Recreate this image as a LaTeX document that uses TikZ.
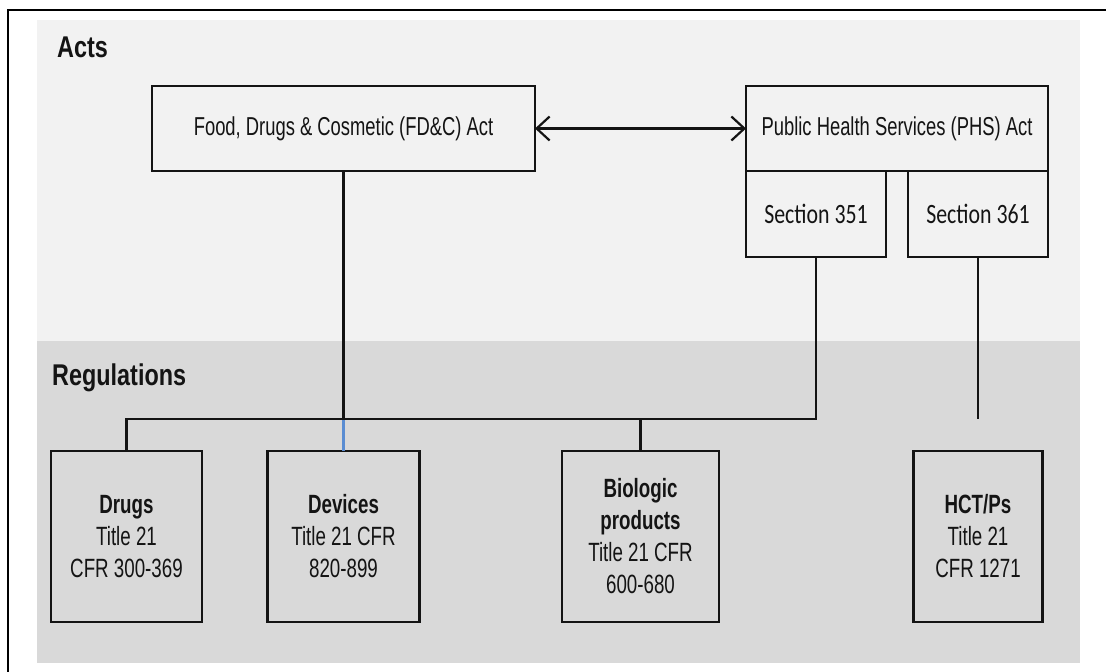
\documentclass[tikz,border=0pt]{standalone}
\usepackage{fontspec}
\setmainfont{Liberation Sans}[FakeStretch=0.71]
\newfontfamily\headfont{Liberation Sans}[FakeStretch=0.78]
\newfontfamily\secfont{Carlito}[FakeStretch=0.78]
\usetikzlibrary{arrows.meta}
\definecolor{actsbg}{HTML}{F2F2F2}
\definecolor{regbg}{HTML}{D9D9D9}
\definecolor{linkblue}{RGB}{91,141,210}
\definecolor{ink}{HTML}{141414}
\begin{document}
\begin{tikzpicture}[x=1pt,y=-1pt,
  box/.style={draw=ink, line width=2.2pt, inner sep=0pt, outer sep=0pt,
    align=center, text=ink, font=\fontsize{25.9}{30}\selectfont},
  actbox/.style={box, minimum height=85pt},
  secbox/.style={box, minimum width=140pt, minimum height=86pt,
    font=\secfont\fontsize{28}{32}\selectfont},
  regbox/.style={box, minimum height=171pt, font=\fontsize{26.4}{32}\selectfont},
  link/.style={draw=ink, line width=2.2pt},
  heading/.style={anchor=base west, inner sep=0pt, text=ink,
    font=\headfont\bfseries\fontsize{30}{36}\selectfont}]

% page area and frame
\useasboundingbox (0,0) rectangle (1106,672);
\fill[white] (0,0) rectangle (1106,672);
\fill[actsbg] (37,20) rectangle (1080,341);
\fill[regbg] (37,341) rectangle (1080,663);
\draw[line width=1.5pt] (8,672) -- (8,10) -- (1106,10);

% section headings
\node[heading] (acts) at (57,57) {Acts};
\node[heading] (regs) at (52,385) {Regulations};

% acts
\node[actbox, minimum width=383pt] (fdc) at (343.5,128.5)
  {Food, Drugs \& Cosmetic (FD\&C) Act};
\node[actbox, minimum width=302pt] (phs) at (897,128.5)
  {Public Health Services (PHS) Act};
\node[secbox] (s351) at (816,214) {Section 351};
\node[secbox] (s361) at (978,214) {Section 361};

% regulations
\node[regbox, minimum width=151pt] (drugs) at (126.5,536.5)
  {\textbf{Drugs}\\Title 21\\CFR 300-369};
\node[regbox, minimum width=152pt] (devices) at (343.5,536.5)
  {\textbf{Devices}\\Title 21 CFR\\820-899};
\node[regbox, minimum width=157pt] (bio) at (640.5,536.5)
  {\textbf{Biologic}\\\textbf{products}\\Title 21 CFR\\600-680};
\node[regbox, minimum width=129pt] (hct) at (978,536.5)
  {\textbf{HCT/Ps}\\Title 21\\CFR 1271};

% connectors
\draw[link, {Straight Barb[length=13pt,width=24pt]}-{Straight Barb[length=13pt,width=24pt]}]
  (fdc.east) -- (phs.west);
\path (s351.south) ++(0,162) coordinate (bus);
\coordinate (c361) at (s361.south |- bus);
\draw[link] (s351.south) -- (bus) -| (drugs.north);
\draw[link] (bio.north) -- (bio.north |- bus);
\draw[link] (fdc.south) -- (fdc.south |- bus);
\draw[link, draw=linkblue] (fdc.south |- bus) ++(0,1.2) -- (devices.north);
\draw[link] (s361.south) -- (c361);
\end{tikzpicture}
\end{document}
